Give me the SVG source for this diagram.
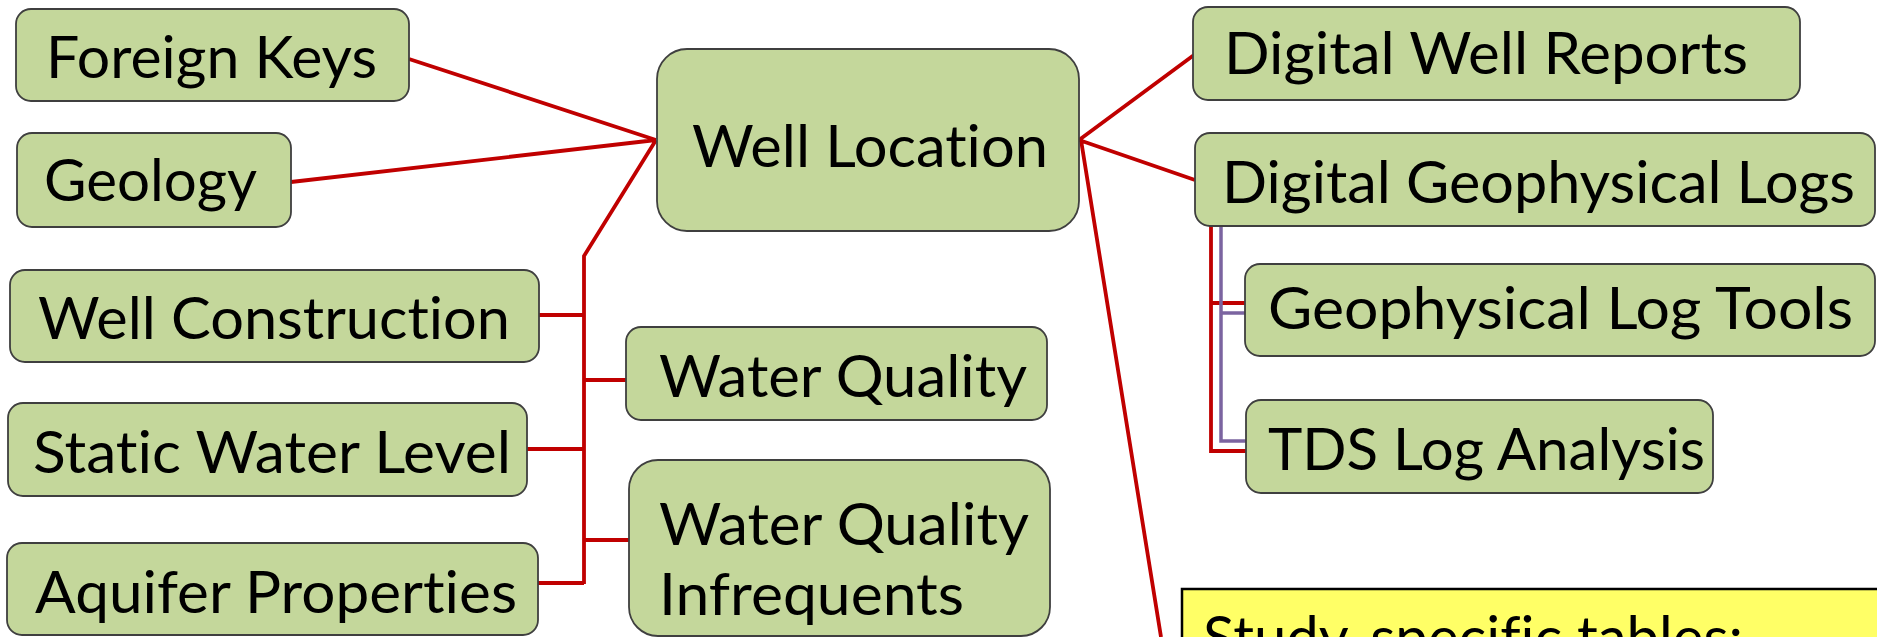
<svg xmlns="http://www.w3.org/2000/svg" width="1877" height="637" viewBox="0 0 1877 637">
<style>
.box{fill:#c4d79b;stroke:#3f3f3f;stroke-width:1.8}
.lbl{font-family:Lato,'Liberation Sans',sans-serif;font-size:59px;fill:#000;font-variant-ligatures:none}
.red{fill:none;stroke:#c00000;stroke-width:3.8}
.pur{fill:none;stroke:#7b64a0;stroke-width:3.5}
</style>
<rect width="1877" height="637" fill="#fff"/>
<g id="connectors">
<path class="red" d="M409,59 L656,140 M291,182 L656,140 M656,140 L584,256 L584,584"/>
<path class="red" d="M539,315 H584 M584,380 H626 M527,449 H584 M584,540 H629 M538,583 H584"/>
<path class="red" d="M1079,140 L1194,55 M1079,140 L1195,180 M1081,140 L1161,637"/>
<path class="red" d="M1211,226 V451 H1248 M1211,303 H1246"/>
<path class="pur" d="M1221,226 V441 H1246 M1221,313 H1246"/>
</g>
<g id="foreign-keys"><rect class="box" x="16" y="9" width="393" height="92" rx="15"/><text class="lbl" x="46" y="78" textLength="331" lengthAdjust="spacingAndGlyphs">Foreign Keys</text></g>
<g id="geology"><rect class="box" x="17" y="133" width="274" height="94" rx="15"/><text class="lbl" x="44" y="201" textLength="213" lengthAdjust="spacingAndGlyphs">Geology</text></g>
<g id="well-location"><rect class="box" x="657" y="49" width="422" height="182" rx="30"/><text class="lbl" x="692" y="167" textLength="356" lengthAdjust="spacingAndGlyphs">Well Location</text></g>
<g id="well-construction"><rect class="box" x="10" y="270" width="529" height="92" rx="15"/><text class="lbl" x="38" y="339" textLength="472" lengthAdjust="spacingAndGlyphs">Well Construction</text></g>
<g id="static-water-level"><rect class="box" x="8" y="403" width="519" height="93" rx="15"/><text class="lbl" x="33" y="473" textLength="478" lengthAdjust="spacingAndGlyphs">Static Water Level</text></g>
<g id="aquifer-properties"><rect class="box" x="7" y="543" width="531" height="92" rx="15"/><text class="lbl" x="35" y="613" textLength="482" lengthAdjust="spacingAndGlyphs">Aquifer Properties</text></g>
<g id="water-quality"><rect class="box" x="626" y="327" width="421" height="93" rx="15"/><text class="lbl" x="659" y="397" textLength="368" lengthAdjust="spacingAndGlyphs">Water Quality</text></g>
<g id="water-quality-infrequents"><rect class="box" x="629" y="460" width="421" height="176" rx="29"/><text class="lbl" x="659" y="545" textLength="370" lengthAdjust="spacingAndGlyphs">Water Quality</text><text class="lbl" x="659" y="615" textLength="305" lengthAdjust="spacingAndGlyphs">Infrequents</text></g>
<g id="digital-well-reports"><rect class="box" x="1193" y="7" width="607" height="93" rx="15"/><text class="lbl" x="1224" y="74" textLength="524" lengthAdjust="spacingAndGlyphs">Digital Well Reports</text></g>
<g id="digital-geophysical-logs"><rect class="box" x="1195" y="133" width="680" height="93" rx="15"/><text class="lbl" x="1222" y="203" textLength="633" lengthAdjust="spacingAndGlyphs">Digital Geophysical Logs</text></g>
<g id="geophysical-log-tools"><rect class="box" x="1245" y="264" width="630" height="92" rx="15"/><text class="lbl" x="1268" y="329" textLength="585" lengthAdjust="spacingAndGlyphs">Geophysical Log Tools</text></g>
<g id="tds-log-analysis"><rect class="box" x="1246" y="400" width="467" height="93" rx="15"/><text class="lbl" x="1268" y="470" textLength="437" lengthAdjust="spacingAndGlyphs">TDS Log Analysis</text></g>
<g id="study-specific"><rect x="1182" y="589" width="720" height="80" fill="#ffff66" stroke="#000" stroke-width="2.5"/><text class="lbl" x="1203" y="658" textLength="540" lengthAdjust="spacingAndGlyphs">Study-specific tables:</text></g>
</svg>
